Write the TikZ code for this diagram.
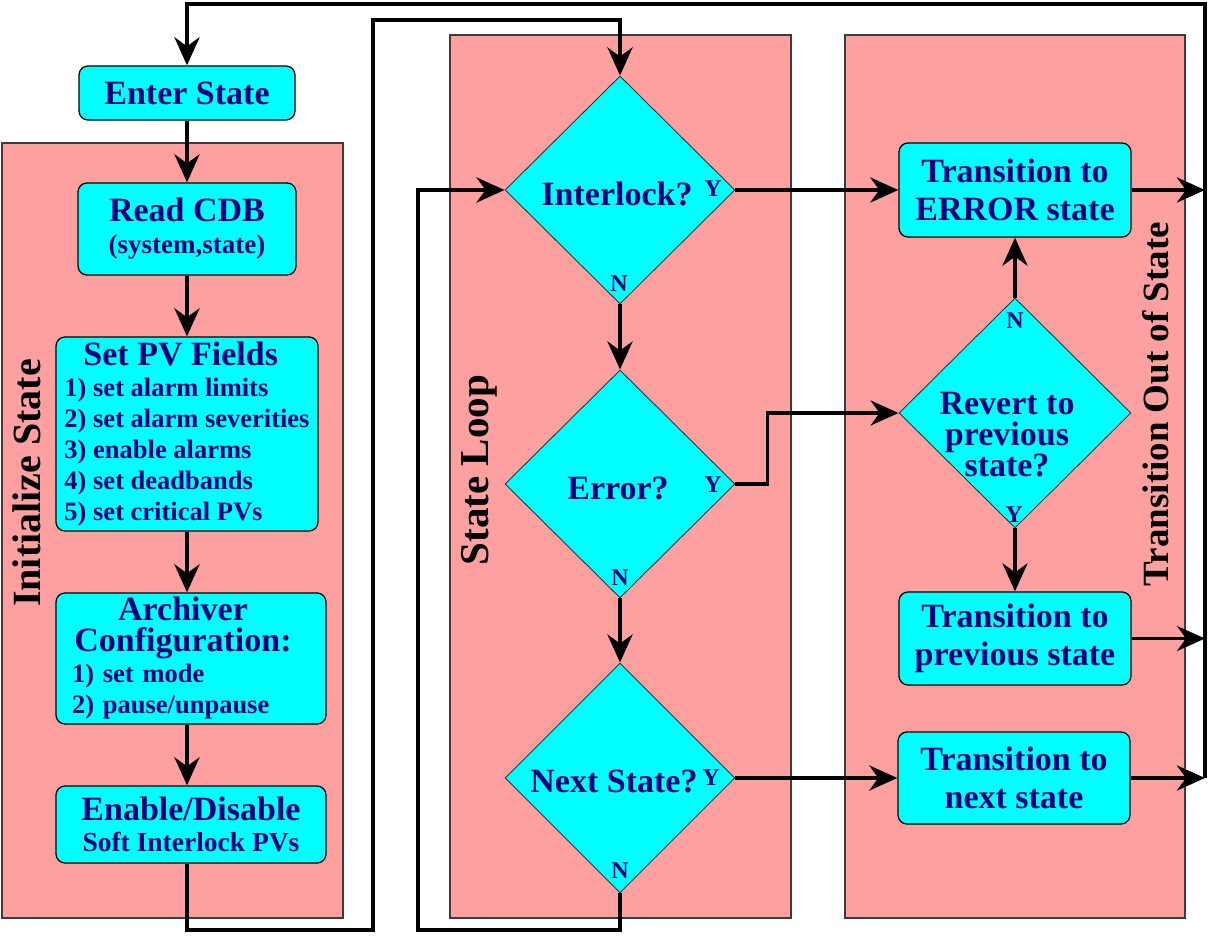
\documentclass[tikz,border=0pt]{standalone}
\usepackage{fontspec}
\setmainfont{Liberation Serif}
\usetikzlibrary{shapes.geometric,arrows.meta}
\definecolor{pnk}{RGB}{255,160,160}
\definecolor{cyn}{RGB}{0,255,255}
\definecolor{navytxt}{RGB}{0,0,128}
\definecolor{edgegray}{RGB}{60,60,60}
\begin{document}
\begin{tikzpicture}[x=1pt,y=-1pt,
  >={Stealth[length=28pt,width=25pt,inset=9pt]},
  panel/.style={draw=edgegray,line width=1.2pt,fill=pnk},
  box/.style={draw=black,line width=1.3pt,fill=cyn,rounded corners=9pt,text=navytxt,inner sep=0pt,font=\bfseries\fontsize{34}{38}\selectfont},
  dia/.style={diamond,draw=black!80,line width=0.9pt,fill=cyn,inner sep=0pt,minimum width=230pt,minimum height=228pt},
  qtext/.style={text=navytxt,inner sep=0pt,font=\bfseries\fontsize{34}{31}\selectfont},
  yn/.style={text=navytxt,inner sep=0pt,anchor=base,font=\bfseries\fontsize{24}{24}\selectfont},
  flow/.style={->,line width=4.5pt},
  ttl/.style={rotate=90,inner sep=0pt}]
\fill[white] (0,0) rectangle (1210,936);
\useasboundingbox (0,0) rectangle (1210,936);

% panels
\draw[panel] (2,143) rectangle (343,918);
\draw[panel] (450,35) rectangle (791,918);
\draw[panel] (845,35) rectangle (1185,918);

% panel titles
\node[ttl,font=\bfseries\fontsize{40}{40}\selectfont] (t1) at (27,483) {Initialize State};
\node[ttl,font=\bfseries\fontsize{41}{41}\selectfont] (t2) at (479,470) {State Loop};
\node[ttl,font=\bfseries\fontsize{37}{37}\selectfont] (t3) at (1156,404) {Transition Out of State};

% left column boxes
\node[box,minimum width=216pt,minimum height=54pt] (enter) at (187,93) {Enter State};
\node[box,minimum width=218pt,minimum height=92pt,align=center,font=\bfseries\fontsize{34}{32}\selectfont] (read) at (187,229) {Read CDB\\{\fontsize{27}{32}\selectfont (system,state)}};
\node[box,minimum width=262pt,minimum height=194pt,align=left,font=\bfseries\fontsize{26.5}{31}\selectfont] (setpv) at (187,434) {\hspace*{19pt}{\fontsize{34}{31}\selectfont Set PV Fields}\\1) set alarm limits\\2) set alarm severities\\3) enable alarms\\4) set deadbands\\5) set critical PVs};
\node[box,minimum width=270pt,minimum height=131pt,text width=254pt,align=left,font=\bfseries\fontsize{26.5}{31}\selectfont] (arch) at (191,658.5) {\hspace*{-8pt}\makebox[\hsize][c]{\fontsize{34}{31}\selectfont Archiver}\\\hspace*{-8pt}\makebox[\hsize][c]{\fontsize{34}{31}\selectfont Configuration:}\\\hspace*{8pt}1) set mode\\\hspace*{8pt}2) pause/unpause};
\node[box,minimum width=270pt,minimum height=77pt,align=center,font=\bfseries\fontsize{34}{31}\selectfont] (enable) at (191,824.5) {Enable/Disable\\{\fontsize{27.5}{31}\selectfont Soft Interlock PVs}};

% diamonds
\node[dia] (il) at (620,190) {};
\node[dia] (er) at (620,484) {};
\node[dia,minimum height=230pt] (nx) at (620,778) {};
\node[dia,minimum width=232pt,minimum height=230pt] (rv) at (1015,413) {};

\node[qtext,anchor=base] (ilq) at (617,206) {Interlock?};
\node[qtext,anchor=base] (erq) at (618,499) {Error?};
\node[qtext,anchor=base] (nxq) at (614,792) {Next State?};
\node[qtext,align=center] (rvq) at (1007,435) {Revert to\\previous\\state?};

\node[yn] (ily) at (713,197) {Y};
\node[yn] (iln) at (619,291) {N};
\node[yn] (ery) at (713,492) {Y};
\node[yn] (ern) at (620,585) {N};
\node[yn] (nxy) at (711,785) {Y};
\node[yn] (nxn) at (620,878) {N};
\node[yn] (rvn) at (1015,328) {N};
\node[yn] (rvy) at (1014,522) {Y};

% right column boxes
\node[box,minimum width=232pt,minimum height=94pt,align=center] (te) at (1015,190) {Transition to\\ERROR state};
\node[box,minimum width=232pt,minimum height=93pt,align=center] (tp) at (1015,638.5) {Transition to\\previous state};
\node[box,minimum width=232pt,minimum height=92pt,align=center] (tn) at (1014,778) {Transition to\\next state};

% routing coordinates
\coordinate (tr) at (1205,4);
\coordinate (tl) at (187,4);
\coordinate (lp1) at (373,930);
\coordinate (lp2) at (373,20);
\coordinate (lp3) at (418,930);

% connectors
\draw[flow] (enter) -- (read);
\draw[flow] (read) -- (setpv);
\draw[flow] (setpv.south) -- (setpv.south |- arch.north);
\draw[flow] (setpv.south |- arch.south) -- (setpv.south |- enable.north);
\draw[flow] (setpv.south |- enable.south) |- (lp1) -- (lp2) -| (il.north);
\draw[flow] (nx.south) |- (lp3) |- (il.west);
\draw[flow] (il.east) -- (te.west);
\draw[flow] (il.south) -- (er.north);
\draw[flow] (er.south) -- (nx.north);
\draw[flow,line width=3.5pt] (er.east) -- ++(32,0) |- (rv.west);
\draw[flow] (nx.east) -- (tn.west);
\draw[flow] (rv.north) -- (te.south);
\draw[flow,line width=3.5pt] (rv.south) -- (tp.north);
\draw[flow] (te.east) -- (te.east -| tr);
\draw[flow,line width=3pt] (tp.east) -- (tp.east -| tr);
\draw[flow] (tn.east) -- (tn.east -| tr);
\draw[flow] (tn.east -| tr) -- (tr) -- (tl) -- (enter.north);
\end{tikzpicture}
\end{document}
